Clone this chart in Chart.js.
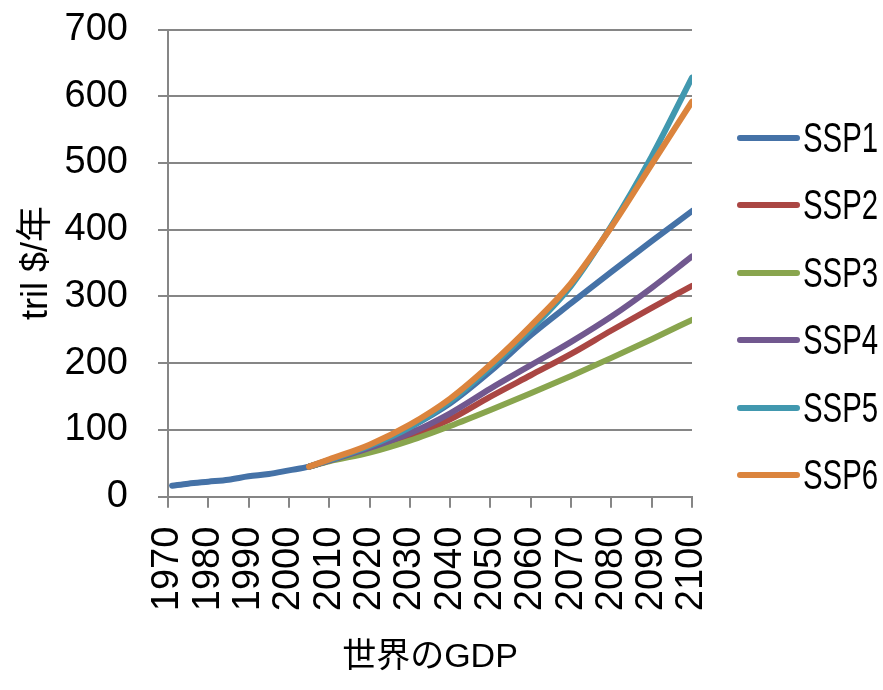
<!DOCTYPE html>
<html>
<head>
<meta charset="utf-8">
<title>世界のGDP</title>
<script src="https://cdn.jsdelivr.net/npm/chart.js@4"></script>
<style>
  body { margin: 0; background: #fff; }
  #wrap { position: relative; width: 883px; height: 690px; overflow: hidden; }
  #myChart { position: absolute; left: 0; top: 0; }
  #legend {
    position: absolute; left: 737px; top: 104px;
    margin: 0; padding: 0; list-style: none;
    font-family: 'Liberation Sans', sans-serif;
    font-size: 42px; color: #000;
  }
  #legend li { height: 67.5px; display: flex; align-items: center; white-space: nowrap; }
  #legend .line { width: 63px; height: 6px; border-radius: 3px; margin-right: 3px; flex: none; }
  /* 横幅を詰めた表示 */
  #legend .txt { display: inline-block; transform: scaleX(0.7); transform-origin: left center; }
</style>
</head>
<body>
<div id="wrap">
  <canvas id="myChart" width="883" height="690"></canvas>
  <ul id="legend"></ul>
</div>
<script>
// 実績 (1971-2000)
var histYears = [1971, 1975, 1980, 1985, 1990, 1995, 2000];
var histGdp = [16.5, 19.5, 22.5, 25.5, 30.5, 34, 39.5];

// シナリオ別 (2005-2100)
var sspYears = [2005, 2010, 2020, 2030, 2040, 2050, 2060, 2070, 2080, 2090, 2100];
var ssp1 = [45, 55, 75, 104, 140, 188, 242, 290, 337, 383, 428];
var ssp2 = [45, 54, 72, 90, 116, 150, 182, 214, 249, 283, 316];
var ssp3 = [45, 53, 66, 84, 106, 130, 155, 181, 208, 236, 265];
var ssp4 = [45, 54, 73, 95, 125, 162, 197, 232, 270, 313, 360];
var ssp5 = [45, 55, 76, 104, 143, 194, 251, 316, 406, 510, 628];
var ssp6 = [45, 56, 78, 108, 147, 198, 256, 320, 404, 498, 592];

var sspNames = ['SSP1', 'SSP2', 'SSP3', 'SSP4', 'SSP5', 'SSP6'];
var sspColors = ['#4572a7', '#aa4643', '#89a54e', '#71588f', '#4198af', '#db843d'];

var yearTicks = [1970, 1980, 1990, 2000, 2010, 2020, 2030, 2040, 2050, 2060, 2070, 2080, 2090, 2100];

var latinFont = "'Liberation Sans', sans-serif";
var titleFont = "'Liberation Sans', 'Noto Sans CJK JP', sans-serif";

function toPoints(xs, ys) {
    var pts = [];
    for (var i = 0; i < xs.length; i++) {
        pts.push({x: xs[i], y: ys[i]});
    }
    return pts;
}

// SSP1は実績とつなげて描く
var seriesData = [
    toPoints(histYears.concat(sspYears), histGdp.concat(ssp1)),
    toPoints(sspYears, ssp2),
    toPoints(sspYears, ssp3),
    toPoints(sspYears, ssp4),
    toPoints(sspYears, ssp5),
    toPoints(sspYears, ssp6)
];

var datasets = [];
for (var i = 0; i < sspNames.length; i++) {
    datasets.push({
        label: sspNames[i],
        data: seriesData[i],
        borderColor: sspColors[i],
        backgroundColor: sspColors[i],
        borderWidth: 6,
        borderCapStyle: 'round',
        borderJoinStyle: 'round',
        pointRadius: 0,
        pointHoverRadius: 0,
        cubicInterpolationMode: 'monotone',
        order: sspNames.length - 1 - i   // 後のシナリオほど上に重ねる
    });
}

Chart.defaults.font.family = latinFont;
Chart.defaults.color = '#000';

var ctx = document.getElementById('myChart').getContext('2d');
var myChart = new Chart(ctx, {
    type: 'line',
    data: { datasets: datasets },
    options: {
        responsive: false,
        animation: false,
        layout: { padding: { top: 29.5, right: 191, bottom: 0, left: 0 } },
        plugins: {
            legend: { display: false },
            tooltip: { enabled: false }
        },
        scales: {
            x: {
                type: 'linear',
                min: 1970,
                max: 2100,
                afterBuildTicks: function(scale) {
                    scale.ticks = yearTicks.map(function(v) { return {value: v}; });
                },
                afterFit: function(scale) { scale.height = 193.3; },
                ticks: {
                    minRotation: 90,
                    maxRotation: 90,
                    autoSkip: false,
                    padding: 19,
                    color: '#000',
                    font: { size: 38 },
                    callback: function(v) { return String(v); }
                },
                grid: { drawOnChartArea: false, drawTicks: true, tickLength: 11, color: '#868686', lineWidth: 2 },
                border: { color: '#868686', width: 2 },
                title: {
                    display: true,
                    text: '世界のGDP',
                    color: '#000',
                    font: { size: 34, family: titleFont },
                    padding: { top: 0, bottom: 12 }
                }
            },
            y: {
                min: 0,
                max: 700,
                afterFit: function(scale) {
                    scale.width = 168;
                    // 上端の余白はlayout.paddingで決める
                    scale.paddingTop = 0;
                    scale.paddingBottom = 0;
                },
                ticks: { stepSize: 100, padding: 30, color: '#000', font: { size: 38 } },
                grid: { color: '#868686', lineWidth: 2, tickLength: 10 },
                border: { color: '#868686', width: 2 },
                title: {
                    display: true,
                    text: 'tril $/年',
                    color: '#000',
                    font: { size: 36, family: titleFont },
                    padding: { top: 15, bottom: 0 }
                }
            }
        }
    }
});

// 凡例はHTMLで右側に並べる
var legendEl = document.getElementById('legend');
myChart.data.datasets.forEach(function(ds) {
    var li = document.createElement('li');
    var line = document.createElement('span');
    line.className = 'line';
    line.style.background = ds.borderColor;
    var txt = document.createElement('span');
    txt.className = 'txt';
    txt.textContent = ds.label;
    li.appendChild(line);
    li.appendChild(txt);
    legendEl.appendChild(li);
});
</script>
</body>
</html>
